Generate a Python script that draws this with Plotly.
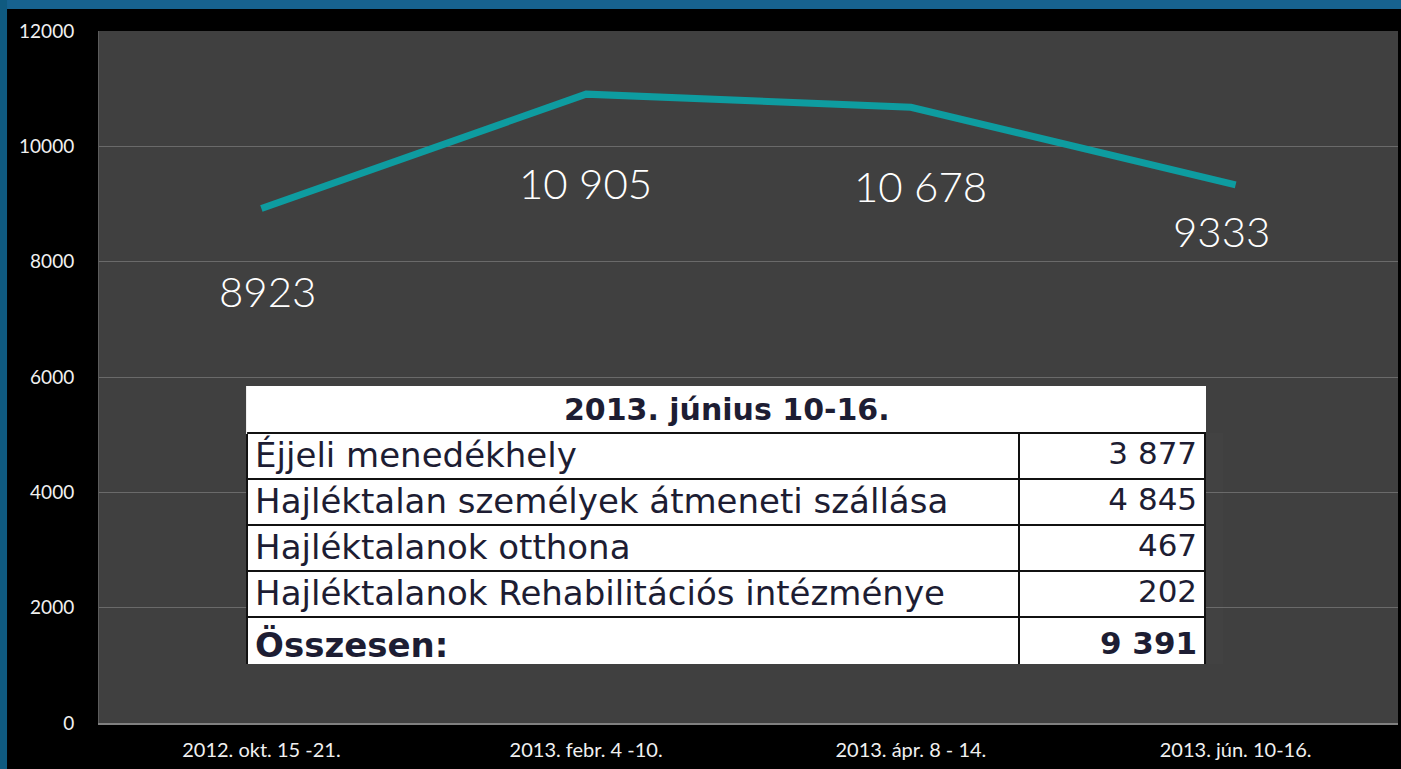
import plotly.graph_objects as go

# data
weeks = ["2012. okt. 15 -21.", "2013. febr. 4 -10.", "2013. ápr. 8 - 14.", "2013. jún. 10-16."]
guests = [8923, 10905, 10678, 9333]
guest_labels = ["8923", "10 905", "10 678", "9333"]

table_title = "2013. június 10-16."
table_rows = [
    "Éjjeli menedékhely",
    "Hajléktalan személyek átmeneti szállása",
    "Hajléktalanok otthona",
    "Hajléktalanok Rehabilitációs intézménye",
    "<b>Összesen:</b>",
]
table_values = ["3 877", "4 845", "467", "202", "<b>9 391</b>"]

# label offsets in px (dx, dy) relative to each point
label_shift = [(6, -83), (-1, -89), (10, -79), (-14, -46)]

LABEL_FONT = "Lato"
TABLE_FONT = "DejaVu Sans"
INK = "#1d1d33"

TBL_X = [0.114, 0.8522]
TBL_Y = [0.0838, 0.4855]


def build_figure():
    fig = go.Figure()

    fig.add_trace(go.Scatter(
        x=weeks, y=guests,
        mode="lines",
        line=dict(color="#0e9ca0", width=7),
        hoverinfo="skip",
        showlegend=False,
    ))

    # table overlay
    fig.add_trace(go.Table(
        domain=dict(x=TBL_X, y=TBL_Y),
        columnwidth=[773, 186],
        header=dict(
            values=["", ""],
            fill_color="white",
            line=dict(color="white", width=2),
            height=46,
        ),
        cells=dict(
            values=[table_rows, table_values],
            align=["left", "right"],
            fill_color="white",
            line=dict(color="#111111", width=2),
            font=dict(family=TABLE_FONT, size=[34, 31], color=INK),
            height=46,
        ),
    ))

    for w, v, txt, (dx, dy) in zip(weeks, guests, guest_labels, label_shift):
        fig.add_annotation(
            x=w, y=v, text=txt, showarrow=False,
            xshift=dx, yshift=dy,
            font=dict(family=LABEL_FONT, size=42, color="white", weight=300),
        )

    fig.add_annotation(
        xref="paper", yref="paper", x=sum(TBL_X) / 2, y=0.4535,
        text="<b>" + table_title + "</b>", showarrow=False,
        font=dict(family=TABLE_FONT, size=30, color=INK),
    )
    # rule under the title row
    fig.add_shape(type="line", xref="paper", yref="paper",
                  x0=TBL_X[0], x1=TBL_X[1], y0=0.4191, y1=0.4191,
                  line=dict(color="#111111", width=2))

    # blue slide frame
    fig.add_shape(type="rect", xref="paper", yref="paper",
                  x0=-0.08, x1=1.01, y0=1.0318, y1=1.06,
                  fillcolor="#17628f", line_width=0, layer="below")
    fig.add_shape(type="rect", xref="paper", yref="paper",
                  x0=-0.08, x1=-0.0708, y0=-0.08, y1=1.06,
                  fillcolor="#0f5a80", line_width=0, layer="below")

    fig.update_xaxes(
        range=[-0.5, 3.5],
        showgrid=False,
        showline=True, linecolor="#808080", linewidth=2,
        ticks="", ticklabelstandoff=8,
        tickfont=dict(family=LABEL_FONT, size=20, color="#f0f0f0"),
    )
    fig.update_yaxes(
        range=[0, 12000], dtick=2000, tickformat="d",
        gridcolor="#6a6a6a", gridwidth=1,
        showline=True, linecolor="#5c5c5c", linewidth=1,
        zeroline=False,
        ticks="", ticklabelstandoff=20,
        tickfont=dict(family=LABEL_FONT, size=19, color="#f0f0f0"),
    )

    fig.update_layout(
        width=1401, height=769,
        margin=dict(l=99, r=3, t=31, b=46),
        paper_bgcolor="black",
        plot_bgcolor="#404040",
        showlegend=False,
    )
    return fig


fig = build_figure()
fig.write_html(
    "out.html",
    config={"displayModeBar": False},
    post_script="document.body.style.margin='0';document.body.style.background='black';",
)
